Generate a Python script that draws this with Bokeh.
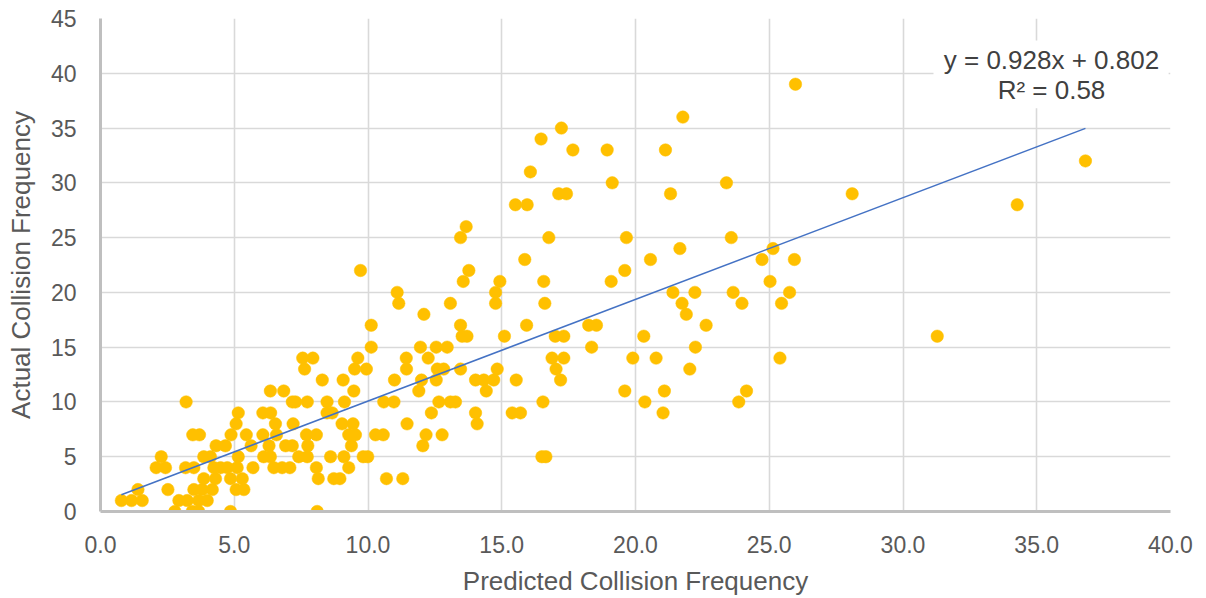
from bokeh.plotting import figure
from bokeh.models import Label, BoxAnnotation, FixedTicker, NumeralTickFormatter, Range1d
from bokeh.embed import file_html
from bokeh.resources import INLINE

# ---- data ----
predicted = [
    2.78, 3.43, 3.67, 4.86, 8.1,
    0.78, 1.16, 1.56, 2.93, 3.24, 3.67, 3.99,
    1.4, 2.52, 3.49, 3.8, 4.18, 5.07, 5.36,
    3.86, 4.3, 4.86, 5.3, 8.14, 8.72, 8.95, 10.69, 11.3,
    2.08, 2.43, 3.18, 3.49, 4.24, 4.49, 4.74, 5.11, 5.7, 6.48, 6.79, 7.08, 8.07, 9.28,
    2.27, 3.86, 4.11, 5.15, 6.1, 6.35, 7.41, 7.73, 8.6, 9.1, 9.82, 9.99, 16.5, 16.65,
    4.32, 4.67, 5.63, 6.3, 6.92, 7.17, 7.75, 9.38, 12.05,
    3.45, 3.7, 4.88, 5.45, 6.07, 6.58, 7.7, 8.07, 9.28, 9.53, 10.28, 10.57, 12.17, 12.77,
    5.07, 6.54, 7.2, 9.03, 9.44, 11.46, 14.08,
    5.15, 6.07, 6.36, 8.47, 8.66, 12.37, 14.02, 15.39, 15.7, 21.03,
    3.2, 7.17, 7.29, 7.73, 8.47, 9.12, 10.59, 10.97, 12.65, 13.08, 13.27, 16.54, 20.35, 23.86,
    6.35, 6.85, 9.47, 11.9, 14.42, 19.6, 21.08, 24.15,
    8.29, 9.07, 10.99, 12.0, 12.55, 14.02, 14.33, 14.7, 15.54, 17.2,
    7.63, 9.5, 9.94, 11.44, 12.59, 12.83, 13.46, 14.83, 17.03, 22.03,
    7.56, 7.94, 9.62, 11.43, 12.25, 16.88, 17.32, 19.9, 20.77, 25.4,
    10.12, 11.96, 12.55, 12.96, 18.36, 22.24,
    13.52, 13.7, 15.1, 17.0, 17.32, 20.31, 31.28,
    10.12, 13.46, 15.93, 18.25, 18.54, 22.64,
    12.09, 21.9,
    11.15, 13.08, 14.77, 16.61, 21.74, 23.98, 25.46,
    11.09, 14.77, 21.4, 22.22, 23.65, 25.76,
    13.56, 14.93, 16.57, 19.09, 25.03,
    9.72, 13.77, 19.6,
    15.86, 20.56, 24.73, 25.94,
    21.66, 25.14,
    13.46, 16.76, 19.66, 23.58,
    13.67,
    15.51, 15.95, 34.27,
    17.13, 17.42, 21.31, 28.1,
    19.13, 23.4,
    16.07,
    36.82,
    17.66, 18.94, 21.12,
    16.47,
    17.23,
    21.77,
    25.98,
]
actual = [
    0, 0, 0, 0, 0,
    1, 1, 1, 1, 1, 1, 1,
    2, 2, 2, 2, 2, 2, 2,
    3, 3, 3, 3, 3, 3, 3, 3, 3,
    4, 4, 4, 4, 4, 4, 4, 4, 4, 4, 4, 4, 4, 4,
    5, 5, 5, 5, 5, 5, 5, 5, 5, 5, 5, 5, 5, 5,
    6, 6, 6, 6, 6, 6, 6, 6, 6,
    7, 7, 7, 7, 7, 7, 7, 7, 7, 7, 7, 7, 7, 7,
    8, 8, 8, 8, 8, 8, 8,
    9, 9, 9, 9, 9, 9, 9, 9, 9, 9,
    10, 10, 10, 10, 10, 10, 10, 10, 10, 10, 10, 10, 10, 10,
    11, 11, 11, 11, 11, 11, 11, 11,
    12, 12, 12, 12, 12, 12, 12, 12, 12, 12,
    13, 13, 13, 13, 13, 13, 13, 13, 13, 13,
    14, 14, 14, 14, 14, 14, 14, 14, 14, 14,
    15, 15, 15, 15, 15, 15,
    16, 16, 16, 16, 16, 16, 16,
    17, 17, 17, 17, 17, 17,
    18, 18,
    19, 19, 19, 19, 19, 19, 19,
    20, 20, 20, 20, 20, 20,
    21, 21, 21, 21, 21,
    22, 22, 22,
    23, 23, 23, 23,
    24, 24,
    25, 25, 25, 25,
    26,
    28, 28, 28,
    29, 29, 29, 29,
    30, 30,
    31,
    32,
    33, 33, 33,
    34,
    35,
    36,
    39,
]
slope = 0.928
intercept = 0.802
r_squared = 0.58
x_ticks = [0, 5, 10, 15, 20, 25, 30, 35, 40]
y_ticks = [0, 5, 10, 15, 20, 25, 30, 35, 40, 45]
x_title = "Predicted Collision Frequency"
y_title = "Actual Collision Frequency"

FONT = "Liberation Sans"
TXT = "#595959"

p = figure(width=1206, height=598, title=None,
           x_range=Range1d(0, 40), y_range=Range1d(0, 45),
           output_backend="svg", toolbar_location=None,
           min_border_left=100, min_border_right=36,
           min_border_top=18, min_border_bottom=86)
p.outline_line_color = None
p.background_fill_color = "white"
p.border_fill_color = "white"

# axes
p.xaxis.ticker = FixedTicker(ticks=x_ticks)
p.yaxis.ticker = FixedTicker(ticks=y_ticks)
p.xaxis.formatter = NumeralTickFormatter(format="0.0")
p.xaxis.axis_label = x_title
p.yaxis.axis_label = y_title
for ax in (p.xaxis, p.yaxis):
    ax.major_tick_line_color = None
    ax.minor_tick_line_color = None
    ax.axis_line_color = "#bfbfbf"
    ax.axis_line_width = 3
    ax.major_label_text_font = FONT
    ax.major_label_text_font_size = "23px"
    ax.major_label_text_color = TXT
    ax.axis_label_text_font = FONT
    ax.axis_label_text_font_size = "26px"
    ax.axis_label_text_font_style = "normal"
    ax.axis_label_text_color = TXT
p.xaxis.major_label_standoff = 18
p.yaxis.major_label_standoff = 18
p.xaxis.axis_label_standoff = 10
p.yaxis.axis_label_standoff = 12

# grid
p.xgrid.ticker = FixedTicker(ticks=x_ticks)
p.ygrid.ticker = FixedTicker(ticks=y_ticks)
for g in (p.xgrid, p.ygrid):
    g.grid_line_color = "#d9d9d9"
    g.grid_line_width = 1.6

# points
p.scatter(predicted, actual, size=12.5, fill_color="#FFC000",
          line_color="#FFC000", line_width=0.5)

# trend line
x0, x1 = min(predicted), max(predicted)
p.line([x0, x1], [slope * x0 + intercept, slope * x1 + intercept],
       line_color="#4472C4", line_width=1.5)

# equation box
p.add_layout(BoxAnnotation(left=31.14, right=39.93, bottom=36.8, top=43.0,
                           fill_color="white", fill_alpha=1.0, line_color=None))
p.add_layout(Label(x=35.55, y=41.17, text=f"y = {slope}x + {intercept}",
                   text_align="center", text_baseline="middle",
                   text_font=FONT, text_font_size="26px", text_color="#404040"))
p.add_layout(Label(x=35.55, y=38.43, text=f"R\u00b2 = {r_squared}",
                   text_align="center", text_baseline="middle",
                   text_font=FONT, text_font_size="26px", text_color="#404040"))

open("out.html", "w").write(file_html(p, INLINE))
